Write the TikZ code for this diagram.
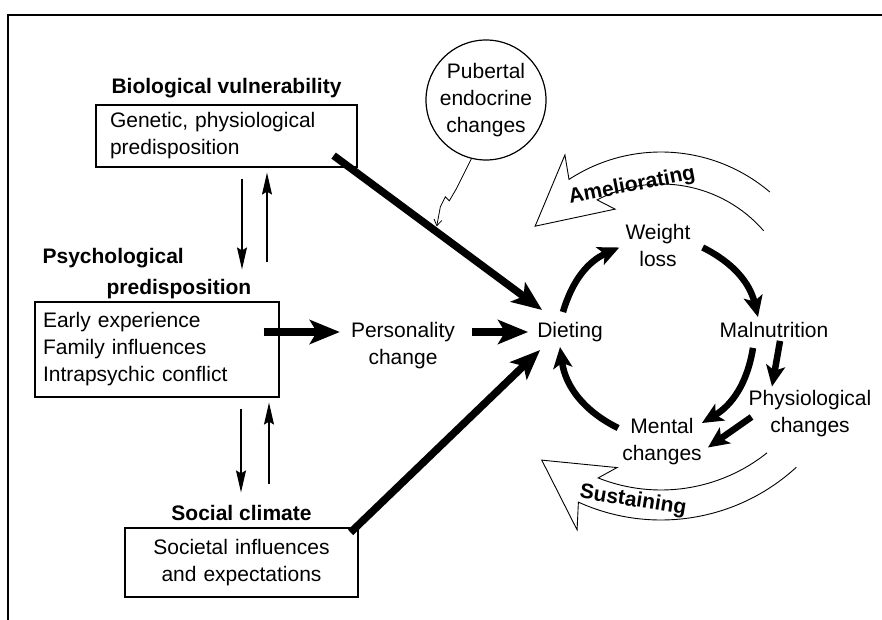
\documentclass[tikz,border=0pt]{standalone}
\usepackage{fontspec}
\setmainfont{Liberation Sans}
\usetikzlibrary{arrows.meta,positioning,calc}
\tikzset{
  every picture/.style = {
    x = 1pt,
    y = 1pt,
    font = \fontsize{21}{27}\selectfont
  }
  ,
  box/.style = {
    rectangle,
    draw,
    line width = 1.2pt,
    inner ysep = 0pt
  }
  , % bold titles over the boxes
  heading/.style = {
    font = \fontsize{21}{27}\selectfont\bfseries,
    inner sep = 0pt
  }
  , % words of the cycle
  stage/.style = {
    align = center,
    inner sep = 2pt
  }
  ,
  bigarrow/.style = {
    line width = 7.5pt,
    -{Stealth[length=30pt, width=24pt, inset=7pt]}
  }
  ,
  cyclearrow/.style = {
    line width = 6.5pt,
    -{Stealth[length=21pt, width=19pt, inset=5pt]}
  }
  ,
  slimarrow/.style = {
    line width = 1.2pt,
    -{Stealth[length=22pt, width=10pt, inset=3pt]}
  }
  , % the open arrows round the cycle
  bandarrow/.style = {
    line width = 0.9pt,
    line join = miter
  }
  ,
  bandlabel/.style = {
    font = \fontsize{21}{25}\selectfont\bfseries,
    inner sep = 0pt
  }
}

\begin{document}
\begin{tikzpicture}
  \useasboundingbox (0,0) rectangle (882,-620);
  \draw [line width=1.5pt] (8,-620) -- (8,-15) -- (882,-15);

  % the three boxes
  \node [box, minimum width=261pt, minimum height=62pt, text width=233pt, inner xsep=14pt, align=left] (bio) at (226.5,-136)
        {Genetic, physiological\\predisposition};
  \node [box, minimum width=244pt, minimum height=95pt, text width=228pt, inner xsep=8pt, align=left] (psy) at (157,-349.5)
        {Early experience\\Family influences\\Intrapsychic conflict};
  \node [box, minimum width=233pt, minimum height=69pt, text width=219pt, inner xsep=7pt, align=center] (soc) at (241.5,-562.5)
        {Societal influences\\and expectations};
  \node [heading, above=6pt of bio] (biotitle) {Biological vulnerability};
  \node [heading, align=left, above right=2pt and 8pt of psy.north west] (psytitle)
        {Psychological\\[4pt]\hspace*{64pt}predisposition};
  \node [heading, above=7pt of soc] (soctitle) {Social climate};

  \node [circle, draw, line width=1.2pt, minimum size=120pt, inner sep=0pt, align=center] (pub) at (486,-100)
        {Pubertal\\endocrine\\changes};

  \node [stage] (pers) at (403,-346) {Personality\\change};
  \node [stage] (diet) at (570,-332) {Dieting};
  \node [stage] (wloss) at (658,-245.5) {Weight\\loss};
  \node [stage] (maln) at (774,-330) {Malnutrition};
  \node [stage] (phys) at (810,-414) {Physiological\\changes};
  \node [stage] (ment) at (662,-441.5) {Mental\\changes};

  % between the boxes
  \draw [slimarrow, shorten <=11pt, shorten >=32pt] ($(bio.south -| psy.north)+(85,0)$) -- ($(psy.north)+(85,0)$);
  \draw [slimarrow, shorten <=39pt, shorten >=5pt] ($(psy.north)+(110,0)$) -- ($(bio.south -| psy.north)+(110,0)$);
  \draw [slimarrow, shorten <=11pt, shorten >=35pt] ($(psy.south)+(84,0)$) -- ($(soc.north -| psy.south)+(84,0)$);
  \draw [slimarrow, shorten <=43pt, shorten >=5pt] ($(soc.north -| psy.south)+(112,0)$) -- ($(psy.south)+(112,0)$);

  % into dieting
  \draw [bigarrow] ([shift={(-24,12)}]bio.south east) -- coordinate [pos=0.49] (hit) ([shift={(7,10)}]diet.north west);
  \draw [bigarrow] ([shift={(-8,-5)}]soc.north east) -- ([shift={(5,-6)}]diet.south west);
  \draw [bigarrow, shorten <=-16pt, shorten >=9pt] (psy.east |- diet.west) -- (pers.west |- diet.west);
  \draw [bigarrow, shorten <=15pt, shorten >=7pt] (diet.west -| pers.east) -- (diet.west);
  \draw [line width=0.8pt, -{Straight Barb[length=6pt, width=8pt]}, shorten >=5pt]
        (pub.-104) -- ++(-15,-30) -- ++(-7,-12) -- ++(-4,4) -- ++(-5,-10) -- (hit);

  % the cycle
  \draw [cyclearrow] ([shift={(-7,8)}]diet.north) to [bend left=25] ([shift={(-4,-2)}]wloss.west);
  \draw [cyclearrow] ([shift={(10,-2)}]wloss.east) to [bend left=25] ([shift={(-16,3)}]maln.north);
  \draw [cyclearrow] ([shift={(-21,-8)}]maln.south) to [bend left=25] ([shift={(-2,-7)}]ment.north east);
  \draw [cyclearrow] ([shift={(6,-1)}]maln.south) -- ([shift={(-38,2)}]phys.north);
  \draw [cyclearrow] ([shift={(5,-3)}]phys.west) -- ([shift={(4,-6)}]ment.east);
  \draw [cyclearrow] ([shift={(-2,-12)}]ment.north west) to [bend left=28] ([shift={(-10,-3)}]diet.south);

  \begin{scope}[shift={(661,-320)}]
    \draw [bandarrow] (49.6:168pt) arc [start angle=49.6, end angle=123.2, radius=168pt]
          -- (120.2:191pt) -- (143.3:157pt) -- (112.5:120pt) -- (118:136pt)
          arc [start angle=118, end angle=41, radius=136pt];
    \draw [bandarrow] (-47.4:200pt) arc [start angle=-47.4, end angle=-114.4, radius=200pt]
          -- (-111.8:226pt) -- (-130.4:184pt) -- (-106.6:154pt) -- (-111.7:170pt)
          arc [start angle=-111.7, end angle=-51.4, radius=170pt];
  \end{scope}
  \node [bandlabel, rotate=11] (amel) at (632,-186) {Ameliorating};
  \node [bandlabel, rotate=-9] (sust) at (633,-501) {Sustaining};
\end{tikzpicture}
\end{document}
